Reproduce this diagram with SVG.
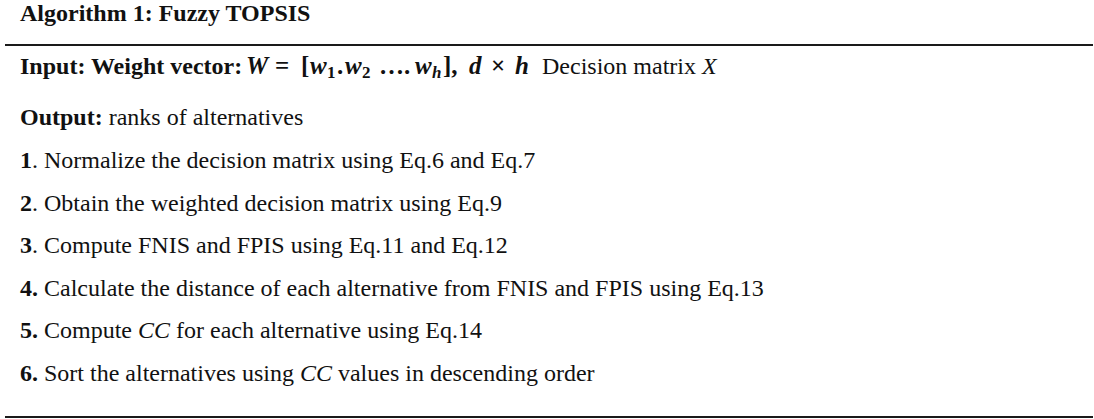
<svg xmlns="http://www.w3.org/2000/svg" width="1094" height="419" viewBox="0 0 1094 419">
<style>
text{font-family:"Liberation Serif","Times New Roman",serif;font-size:24px;fill:#111}
.b{font-weight:bold}
.i{font-style:italic}
.m{font-weight:bold;font-style:italic;font-size:25px}
.o{font-weight:bold;font-size:25px}
.s{font-size:17px;font-weight:bold}
.sm{font-size:17px;font-weight:bold;font-style:italic}
.rule{stroke:#1a1a1a;stroke-width:2.2}
</style>
<rect width="1094" height="419" fill="#fff"/>
<g id="title"><text class="b" x="20" y="21">Algorithm 1: Fuzzy TOPSIS</text></g>
<g id="rules">
<line class="rule" x1="5" y1="45" x2="1093" y2="45"/>
<line class="rule" x1="5" y1="417" x2="1093" y2="417"/>
</g>
<g id="input">
<text x="20" y="74"><tspan class="b">Input: Weight vector:</tspan><tspan class="m" x="246">W</tspan><tspan class="o" x="275">=</tspan><tspan class="o" x="301">[</tspan><tspan class="m" x="310">w</tspan><tspan class="s" x="327" y="78">1</tspan><tspan class="o" x="337" y="74">.</tspan><tspan class="m" x="345">w</tspan><tspan class="s" x="362" y="78">2</tspan><tspan class="o" x="379" y="74">….</tspan><tspan class="m" x="415">w</tspan><tspan class="sm" x="432" y="78">h</tspan><tspan class="o" x="443" y="74">],</tspan><tspan class="m" x="469">d</tspan><tspan class="o" x="491">×</tspan><tspan class="m" x="515">h</tspan><tspan x="542">Decision matrix </tspan><tspan class="i">X</tspan></text>
</g>
<g id="output"><text x="20" y="125"><tspan class="b">Output:</tspan> ranks of alternatives</text></g>
<g id="step1"><text x="20" y="168"><tspan class="b">1</tspan>. Normalize the decision matrix using Eq.6 and Eq.7</text></g>
<g id="step2"><text x="20" y="210.5"><tspan class="b">2</tspan>. Obtain the weighted decision matrix using Eq.9</text></g>
<g id="step3"><text x="20" y="253"><tspan class="b">3</tspan>. Compute FNIS and FPIS using Eq.11 and Eq.12</text></g>
<g id="step4"><text x="20" y="295.5"><tspan class="b">4.</tspan> Calculate the distance of each alternative from FNIS and FPIS using Eq.13</text></g>
<g id="step5"><text x="20" y="338"><tspan class="b">5.</tspan> Compute <tspan class="i">CC</tspan> for each alternative using Eq.14</text></g>
<g id="step6"><text x="20" y="380.5"><tspan class="b">6.</tspan> Sort the alternatives using <tspan class="i">CC</tspan> values in descending order</text></g>
</svg>
